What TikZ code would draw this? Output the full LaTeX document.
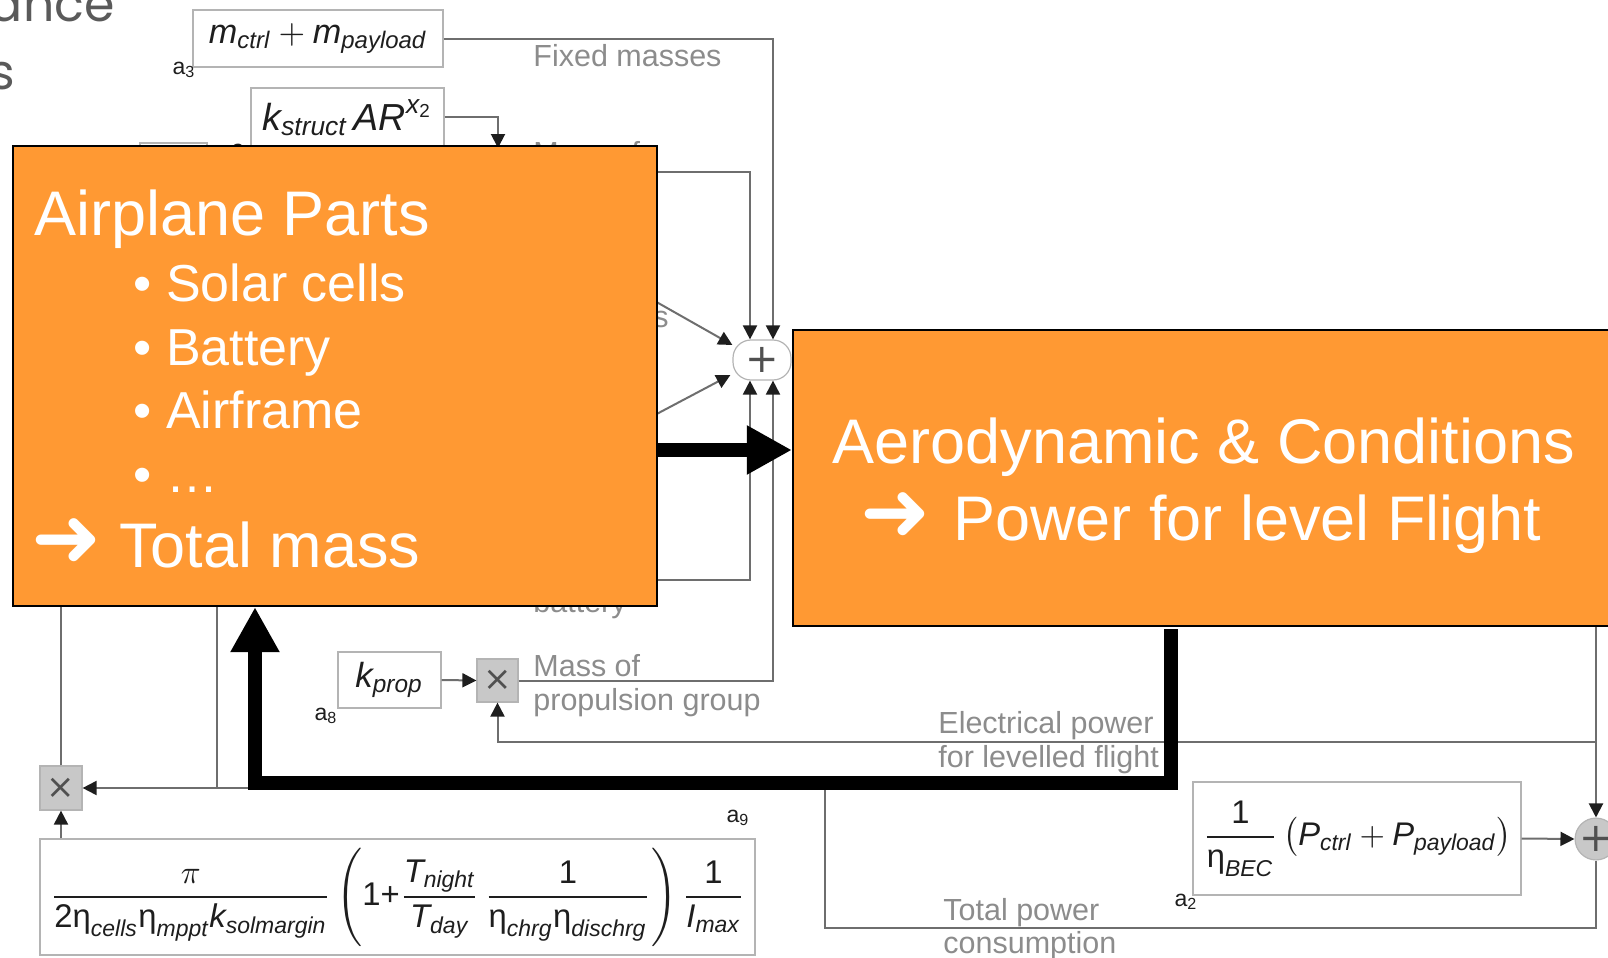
\documentclass[tikz,border=0pt]{standalone}
\usepackage{fontspec}
\usepackage{amsmath}
\usepackage{graphicx}
\setmainfont{Liberation Sans}
\newfontfamily\symf{DejaVu Sans}
\newfontfamily\popf{Poppins}
\usetikzlibrary{arrows.meta,calc,fit}
\definecolor{orng}{HTML}{FF9933}
\definecolor{wirec}{HTML}{6E6E6E}
\definecolor{tipc}{HTML}{1E1E1E}
\definecolor{boxc}{HTML}{B4B4B4}
\definecolor{lblc}{HTML}{8C8C8C}
\definecolor{darkc}{HTML}{1E1E1E}
\definecolor{mulc}{HTML}{C8C8C8}
\definecolor{mulsym}{HTML}{505050}
\definecolor{titlec}{HTML}{5A5A5A}
\newcommand\V[1]{\text{\itshape #1}}
\newcommand\etaS{\text{η}}
\tikzset{
 wire/.style={draw=wirec, line width=1pt},
 tipA/.style={-{Triangle[length=7pt,width=7pt,color=tipc]}},
 blockbox/.style={draw=boxc, line width=0.6pt, fill=white, inner sep=0pt, text=darkc},
 mulbox/.style={draw=boxc, fill=mulc, line width=0.6pt, inner sep=0pt, text=mulsym, font=\symf\fontsize{17}{17}\selectfont},
 lbl/.style={anchor=base west, text=lblc, font=\fontsize{15.25}{18}\selectfont, inner sep=0pt},
 alabel/.style={text=darkc, font=\fontsize{11.5}{12}\selectfont, inner sep=0pt},
 orangebox/.style={draw=black, line width=1.1pt, fill=orng, inner sep=0pt},
 big/.style={anchor=base west, text=white, font=\fontsize{31.5}{36}\selectfont, inner sep=0pt},
 bigc/.style={anchor=base, text=white, font=\fontsize{31.5}{36}\selectfont, inner sep=0pt},
 bul/.style={anchor=base west, text=white, font=\fontsize{26}{30}\selectfont, inner sep=0pt},
 arrowglyph/.style={anchor=center, text=white, font=\symf\bfseries\fontsize{42}{42}\selectfont, inner sep=0pt},
 fat/.style={draw=black, line width=7pt},
 fattip/.style={-{Triangle[length=22.5pt,width=23pt]}},
 titletxt/.style={anchor=base east, text=titlec, font=\popf\fontsize{24.5}{26}\selectfont, inner sep=0pt},
}
\begin{document}
\begin{tikzpicture}[x=0.5pt,y=-0.5pt]
\useasboundingbox (0,0) rectangle (1608,958);
\clip (0,0) rectangle (1608,958);

% slide title remnants
\node[titletxt] (ttl1) at (115,21) {ance};
\node[titletxt] (ttl2) at (15,90) {s};

% ---- block diagram ----
\node[blockbox, minimum width=125pt, minimum height=28.5pt] (m3) at (318,38.5)
  {\resizebox{109pt}{!}{$\V{m}_{\V{ctrl}}+\V{m}_{\V{payload}}$}};
\node[alabel] (a3) at (184,70) {a\textsubscript{3}};

\node[blockbox, minimum width=96.5pt, minimum height=29pt] (ks) at (347.5,117) {};
\node[anchor=base, inner sep=0pt, text=darkc] (kstxt) at (348,130)
  {\resizebox{85.5pt}{!}{$\V{k}_{\V{struct}}\,\V{AR}^{\V{x}_{\text{2}}}$}};
\node[blockbox, minimum width=33.5pt, minimum height=25pt] (hid) at (173.5,168) {};
\node[alabel] (ahid) at (238,150) {a};

\node[draw=boxc, fill=white, line width=0.6pt, rounded corners=9pt,
      minimum width=29pt, minimum height=20pt, inner sep=0pt,
      text=mulsym, font=\symf\fontsize{20}{20}\selectfont] (plus) at (762,360) {+};

\coordinate (sEnd) at (498,148);
\coordinate (stStart) at (630,172);
\coordinate (d1Start) at (600,270);
\coordinate (d2Start) at (600,444);
\coordinate (batStart) at (630,580);

\draw[wire,tipA] (m3.east) -| ($(plus.north)+(11,0)$);
\draw[wire,tipA] (ks.east) -| (sEnd);
\draw[wire,tipA] (stStart) -| ($(plus.north)+(-12,0)$);
\draw[wire,tipA] (d1Start) -- ($(plus.west)+(0,-15)$);
\draw[wire,tipA] (d2Start) -- ($(plus.west)+(-2,15)$);
\draw[wire,tipA] (batStart) -| ($(plus.south)+(-12,0)$);

\node[lbl] (lfix) at (533,66) {Fixed masses};
\node[lbl] (lms1) at (533,163) {Mass of};
\node[lbl] (lms2) at (533,200) {structure};
\node[anchor=base east, text=lblc, font=\fontsize{15.25}{18}\selectfont, inner sep=0pt] (lsol) at (669,327) {s};
\node[lbl] (lbat) at (533,612) {battery};

\node[blockbox, minimum width=51.5pt, minimum height=28pt] (kp) at (389.5,680)
  {\resizebox{34pt}{!}{$\V{k}_{\V{prop}}$}};
\node[alabel] (a8) at (326,716) {a\textsubscript{8}};
\node[mulbox, minimum width=20.5pt, minimum height=21.5pt] (xp) at (497.5,680.5) {×};
\draw[wire,tipA] (kp.east) -- (xp.west);
\draw[wire,tipA] (xp.east) -| ($(plus.south)+(11,0)$);
\node[lbl] (lpr1) at (533,676) {Mass of};
\node[lbl] (lpr2) at (533,710) {propulsion group};

\node[draw=boxc, fill=mulc, circle, minimum size=20pt, inner sep=0pt, line width=0.6pt,
      text=mulsym, font=\symf\fontsize{20}{20}\selectfont] (circ) at (1596,839) {+};
\coordinate (jE) at (1596,742);
\coordinate (rTop) at (1596,626);
\coordinate (jT) at (825,928);
\draw[wire,tipA] (rTop) -- (circ.north);
\draw[wire,tipA] (jE) -| (xp.south);
\node[lbl] (lel1) at (938,733) {Electrical power};
\node[lbl] (lel2) at (938,767) {for levelled flight};

\node[blockbox, minimum width=164pt, minimum height=56.5pt] (bec) at (1357,838.5)
  {\resizebox{154pt}{!}{$\dfrac{\text{1}}{\etaS_{\V{BEC}}}\left(\V{P}_{\V{ctrl}}+\V{P}_{\V{payload}}\right)$}};
\node[alabel] (a2) at (1186,902) {a\textsubscript{2}};
\draw[wire,tipA] (bec.east) -- (circ.west);
\node[lbl] (ltp1) at (943,920) {Total power};
\node[lbl] (ltp2) at (943,953) {consumption};

\node[mulbox, minimum width=21pt, minimum height=22pt] (xl) at (61,788) {×};
\draw[wire,tipA] (circ.south) |- (jT) |- (xl.east);
\coordinate (jL) at (217,788);
\coordinate (jLtop) at (217,600);
\coordinate (xlTop) at (61,600);
\draw[wire] (jLtop) -- (jL);
\draw[wire] (xl.north) -- (xlTop);

\node[blockbox, minimum width=357.5pt, minimum height=58pt] (f9) at (397.5,897)
  {\resizebox{347pt}{!}{$\dfrac{\pi}{\text{2}\etaS_{\V{cells}}\etaS_{\V{mppt}}\V{k}_{\V{solmargin}}}\left(\text{1+}\dfrac{\V{T}_{\V{night}}}{\V{T}_{\V{day}}}\,\dfrac{\text{1}}{\etaS_{\V{chrg}}\etaS_{\V{dischrg}}}\right)\dfrac{\text{1}}{\V{I}_{\V{max}}}$}};
\node[alabel] (a9) at (738,818) {a\textsubscript{9}};
\draw[wire,tipA] (xl.south |- f9.north) -- (xl.south);

% ---- orange overlay boxes ----
\node[orangebox, fit={(13,146)(657,606)}] (parts) {};
\node[orangebox, fit={(793,330)(1625,626)}] (aero) {};

\node[big] (tp) at (34,235) {Airplane Parts};
\node[bul] (b1) at (133,301) {• Solar cells};
\node[bul] (b2) at (133,365) {• Battery};
\node[bul] (b3) at (133,428) {• Airframe};
\node[bul] (b4) at (133,492) {• …};
\node[arrowglyph] (tmarr) at (67,543) {➜};
\node[big] (tm) at (119,567) {Total mass};

\node[bigc] (ar1) at (1204,463) {Aerodynamic \& Conditions};
\node[arrowglyph] (ar2arr) at (896,517) {➜};
\node[big] (ar2) at (953,540) {Power for level Flight};

% ---- thick arrows ----
\coordinate (aY) at (0,450);
\coordinate (fbStart) at (1171,629);
\coordinate (fbCorner) at (255,783);
\draw[fat,fattip] (parts.east |- aY) -- (aero.west |- aY);
\draw[fat,fattip] (fbStart) |- (fbCorner) -- (fbCorner |- parts.south);
\end{tikzpicture}
\end{document}
